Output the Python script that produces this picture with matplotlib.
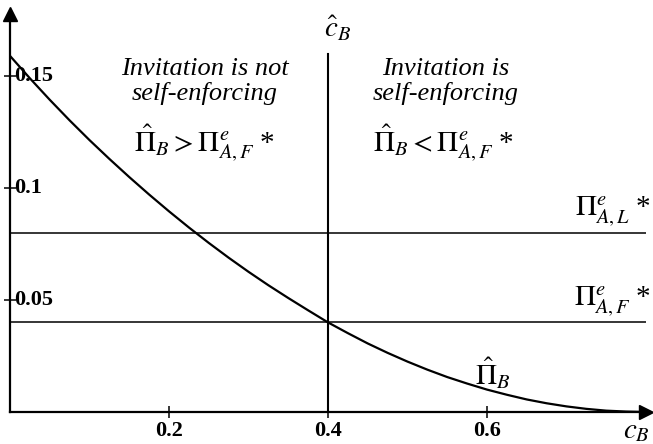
import numpy as np
import matplotlib
matplotlib.use("Agg")
import matplotlib.pyplot as plt

plt.rcParams['font.family'] = 'Liberation Serif'
plt.rcParams['mathtext.fontset'] = 'stix'

# profit of B under the invitation, read at c_B steps of 0.025
c_b = [0.0, 0.025, 0.05, 0.075, 0.1, 0.125, 0.15, 0.175, 0.2, 0.225, 0.25,
       0.275, 0.3, 0.325, 0.35, 0.375, 0.4, 0.425, 0.45, 0.475, 0.5, 0.525,
       0.55, 0.575, 0.6, 0.625, 0.65, 0.675, 0.7, 0.725, 0.75, 0.775, 0.8]
pi_hat_b = [0.159, 0.149, 0.1394, 0.1302, 0.1214, 0.1130, 0.1049, 0.0971,
            0.0896, 0.0824, 0.0755, 0.0689, 0.0626, 0.0566, 0.0509, 0.0454,
            0.040, 0.0352, 0.0306, 0.0264, 0.0225, 0.0189, 0.0156, 0.0127,
            0.010, 0.0077, 0.0056, 0.0039, 0.0025, 0.0014, 0.0006, 0.0002, 0.0]

pi_leader = 0.08      # Pi^e_{A,L}*
pi_follower = 0.04    # Pi^e_{A,F}*
c_hat = 0.4           # threshold c_B

xticks = [0.2, 0.4, 0.6]
xtick_labels = ['0.2', '0.4', '0.6']
yticks = [0.05, 0.1, 0.15]
ytick_labels = ['0.05', '0.1', '0.15']

fig = plt.figure(figsize=(6.53, 4.44), dpi=100)
ax = fig.add_axes([10 / 653, 32 / 444, 636 / 653, 398 / 444])
ax.set_xlim(0, 0.80)
ax.set_ylim(0, 0.1777)

for s in ['top', 'right']:
    ax.spines[s].set_visible(False)
for s in ['left', 'bottom']:
    ax.spines[s].set_linewidth(1.6)

# arrow heads on the axes
ax.plot(1, 0, '>', color='k', ms=10, transform=ax.transAxes, clip_on=False)
ax.plot(0, 1, '^', color='k', ms=10, transform=ax.transAxes, clip_on=False)

ax.plot(c_b, pi_hat_b, color='k', lw=1.6, solid_capstyle='butt')
ax.plot([0, 0.80], [pi_leader, pi_leader], color='k', lw=1.1)
ax.plot([0, 0.80], [pi_follower, pi_follower], color='k', lw=1.1)
ax.plot([c_hat, c_hat], [0, 0.160], color='k', lw=1.5)

ax.set_xticks(xticks)
ax.set_xticklabels(xtick_labels, fontsize=16, fontweight='bold')
ax.set_yticks(yticks)
ax.set_yticklabels([])
ax.tick_params(direction='inout', length=9, width=1.1, pad=2)
for v, lab in zip(yticks, ytick_labels):
    ax.text(0.005, v, lab, fontsize=16, fontweight='bold', ha='left', va='center')

ax.text(c_hat + 0.012, 0.171, r'$\hat{c}_B$', fontsize=21, ha='center', va='center')
ax.text(0.788, -0.0085, r'$c_B$', fontsize=21, ha='center', va='center', clip_on=False)

ax.text(0.245, 0.1475, 'Invitation is not\nself-enforcing', fontsize=19, style='italic',
        ha='center', va='center', linespacing=1.1)
ax.text(0.548, 0.1475, 'Invitation is\nself-enforcing', fontsize=19, style='italic',
        ha='center', va='center', linespacing=1.1)
ax.text(0.244, 0.120, r'$\hat{\Pi}_B > \Pi^e_{A,F}\;$*', fontsize=21, ha='center', va='center')
ax.text(0.545, 0.120, r'$\hat{\Pi}_B < \Pi^e_{A,F}\;$*', fontsize=21, ha='center', va='center')

ax.text(0.806, pi_leader + 0.0095, r'$\Pi^e_{A,L}\;$*', fontsize=21, ha='right', va='center', clip_on=False)
ax.text(0.806, pi_follower + 0.0095, r'$\Pi^e_{A,F}\;$*', fontsize=21, ha='right', va='center', clip_on=False)
ax.text(0.607, 0.017, r'$\hat{\Pi}_B$', fontsize=21, ha='center', va='center')

fig.savefig('out.png', dpi=100)
